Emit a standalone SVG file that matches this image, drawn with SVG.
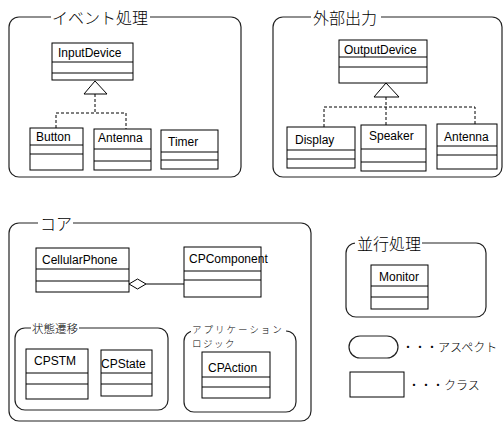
<svg xmlns="http://www.w3.org/2000/svg" width="504" height="423" viewBox="0 0 504 423">
<style>
.bg{fill:#fff}
.cont{fill:none;stroke:#222;stroke-width:1.2}
.cls{fill:#fff;stroke:#000;stroke-width:1}
.div{stroke:#000;stroke-width:1}
.gap{fill:#fff;stroke:none}
.t{font-family:"Liberation Sans",Arial,sans-serif;font-size:12px;fill:#000}
.j{font-family:"Noto Sans CJK JP",sans-serif;font-weight:300;fill:#000}
.conn{fill:none;stroke:#000;stroke-width:1}
.dash{fill:none;stroke:#000;stroke-width:1;stroke-dasharray:3,2}
</style>
<rect class="bg" x="0" y="0" width="504" height="423"/>

<g id="aspect-event">
<rect class="cont" x="9" y="17" width="232" height="160" rx="10"/>
<rect class="gap" x="51" y="8" width="99" height="18"/>
<text class="j" x="52" y="24" font-size="16">イベント処理</text>
</g>
<g id="InputDevice">
<rect class="cls" x="52" y="43" width="81" height="37"/>
<line class="div" x1="52" y1="62" x2="133" y2="62"/>
<line class="div" x1="52" y1="73" x2="133" y2="73"/>
<text class="t" x="58" y="57">InputDevice</text>
</g>
<g id="Button">
<rect class="cls" x="30" y="128" width="53" height="42"/>
<line class="div" x1="30" y1="145" x2="83" y2="145"/>
<line class="div" x1="30" y1="154" x2="83" y2="154"/>
<text class="t" x="36" y="141">Button</text>
</g>
<g id="Antenna1">
<rect class="cls" x="94" y="129" width="57" height="41"/>
<line class="div" x1="94" y1="149" x2="151" y2="149"/>
<line class="div" x1="94" y1="161" x2="151" y2="161"/>
<text class="t" x="98" y="142">Antenna</text>
</g>
<g id="Timer">
<rect class="cls" x="161" y="130" width="57" height="39"/>
<line class="div" x1="161" y1="152" x2="218" y2="152"/>
<line class="div" x1="161" y1="160" x2="218" y2="160"/>
<text class="t" x="168" y="146">Timer</text>
</g>

<g id="aspect-output">
<rect class="cont" x="273" y="17" width="229" height="160" rx="10"/>
<rect class="gap" x="311" y="8" width="70" height="18"/>
<text class="j" x="313" y="24" font-size="16">外部出力</text>
</g>
<g id="OutputDevice">
<rect class="cls" x="339" y="40" width="88" height="43"/>
<line class="div" x1="339" y1="57" x2="427" y2="57"/>
<line class="div" x1="339" y1="67" x2="427" y2="67"/>
<text class="t" x="344" y="54">OutputDevice</text>
</g>
<g id="Display">
<rect class="cls" x="287" y="127" width="68" height="41"/>
<line class="div" x1="287" y1="150" x2="355" y2="150"/>
<line class="div" x1="287" y1="159" x2="355" y2="159"/>
<text class="t" x="295" y="144">Display</text>
</g>
<g id="Speaker">
<rect class="cls" x="361" y="125" width="65" height="46"/>
<line class="div" x1="361" y1="149" x2="426" y2="149"/>
<line class="div" x1="361" y1="162" x2="426" y2="162"/>
<text class="t" x="369" y="140">Speaker</text>
</g>
<g id="Antenna2">
<rect class="cls" x="437" y="124" width="60" height="45"/>
<line class="div" x1="437" y1="146" x2="497" y2="146"/>
<line class="div" x1="437" y1="155" x2="497" y2="155"/>
<text class="t" x="444" y="141">Antenna</text>
</g>

<g id="aspect-core">
<rect class="cont" x="9" y="223" width="302" height="198" rx="10"/>
<rect class="gap" x="38" y="214" width="35" height="18"/>
<text class="j" x="40" y="230" font-size="16">コア</text>
</g>
<g id="CellularPhone">
<rect class="cls" x="36" y="248" width="93" height="44"/>
<line class="div" x1="36" y1="269" x2="129" y2="269"/>
<line class="div" x1="36" y1="281" x2="129" y2="281"/>
<text class="t" x="42" y="264">CellularPhone</text>
</g>
<g id="CPComponent">
<rect class="cls" x="184" y="247" width="77" height="50"/>
<line class="div" x1="184" y1="271" x2="261" y2="271"/>
<line class="div" x1="184" y1="280" x2="261" y2="280"/>
<text class="t" x="189" y="263" font-size="10">CPComponent</text>
</g>

<g id="aspect-state">
<rect class="cont" x="15" y="328" width="153" height="82" rx="10"/>
<rect class="gap" x="31" y="321" width="48" height="14"/>
<text class="j" x="32" y="333" font-size="11.5">状態遷移</text>
</g>
<g id="CPSTM">
<rect class="cls" x="26" y="349" width="62" height="50"/>
<line class="div" x1="26" y1="373" x2="88" y2="373"/>
<line class="div" x1="26" y1="384" x2="88" y2="384"/>
<text class="t" x="34" y="365">CPSTM</text>
</g>
<g id="CPState">
<rect class="cls" x="101" y="350" width="51" height="46"/>
<line class="div" x1="101" y1="373" x2="152" y2="373"/>
<line class="div" x1="101" y1="384" x2="152" y2="384"/>
<text class="t" x="101" y="368">CPState</text>
</g>

<g id="aspect-app">
<rect class="cont" x="184" y="331" width="112" height="81" rx="10"/>
<rect class="gap" x="191" y="323" width="95" height="13"/>
<text class="j" x="192" y="333" font-size="9.5" letter-spacing="2">アプリケーション</text>
<text class="j" x="192" y="347" font-size="9.5" letter-spacing="1.5">ロジック</text>
</g>
<g id="CPAction">
<rect class="cls" x="202" y="352" width="68" height="46"/>
<line class="div" x1="202" y1="377" x2="270" y2="377"/>
<line class="div" x1="202" y1="387" x2="270" y2="387"/>
<text class="t" x="208" y="372">CPAction</text>
</g>

<g id="aspect-concurrency">
<rect class="cont" x="346" y="243" width="140" height="74" rx="10"/>
<rect class="gap" x="355" y="234" width="67" height="18"/>
<text class="j" x="357" y="250" font-size="16">並行処理</text>
</g>
<g id="Monitor">
<rect class="cls" x="371" y="265" width="57" height="44"/>
<line class="div" x1="371" y1="286" x2="428" y2="286"/>
<line class="div" x1="371" y1="297" x2="428" y2="297"/>
<text class="t" x="379" y="281">Monitor</text>
</g>

<g id="legend">
<rect class="cont" x="349" y="336" width="49" height="22" rx="11"/>
<text class="j" x="402" y="352" font-size="12">・・・アスペクト</text>
<rect class="cls" x="350" y="372" width="54" height="25"/>
<text class="j" x="408" y="390" font-size="12">・・・クラス</text>
</g>

<g id="connectors">
<polygon class="conn" fill="#fff" points="95,81 84,94 107,94"/>
<polyline class="dash" points="95,94 95,113"/>
<polyline class="dash" points="56,128 56,113 126,113 126,129"/>
<polygon class="conn" fill="#fff" points="386,83 374,97 399,97"/>
<polyline class="dash" points="386,97 386,125"/>
<polyline class="dash" points="324,127 324,107 475,107 475,124"/>
<polygon class="conn" fill="#fff" points="129,284 137.5,279 146,284 137.5,289"/>
<line class="conn" x1="146" y1="284" x2="184" y2="284"/>
</g>
</svg>
